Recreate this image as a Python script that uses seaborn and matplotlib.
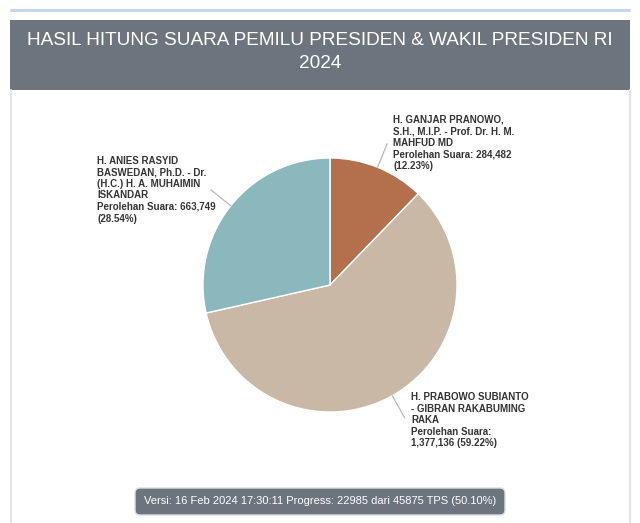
import numpy as np
import matplotlib.pyplot as plt
from matplotlib.patches import Rectangle, FancyBboxPatch
import seaborn as sns

sns.set_theme(style="white")
plt.rcParams['font.family'] = ['Liberation Sans', 'DejaVu Sans']

W, H = 640, 523

title = ["HASIL HITUNG SUARA PEMILU PRESIDEN & WAKIL PRESIDEN RI", "2024"]
footer = "Versi: 16 Feb 2024 17:30:11 Progress: 22985 dari 45875 TPS (50.10%)"

# order goes clockwise from the top of the pie
names = [
    ["H. GANJAR PRANOWO,", "S.H., M.I.P. - Prof. Dr. H. M.", "MAHFUD MD"],
    ["H. PRABOWO SUBIANTO", "- GIBRAN RAKABUMING", "RAKA"],
    ["H. ANIES RASYID", "BASWEDAN, Ph.D. - Dr.", "(H.C.) H. A. MUHAIMIN", "ISKANDAR"],
]
votes = [284482, 1377136, 663749]
colors = sns.color_palette(["#b4704c", "#c9b8a5", "#8bb8bd"])
number_on_next_line = [False, True, False]

# first-line position of each label, pixels from top-left
label_xy = [(393, 120), (411, 397), (97, 160.5)]
line_gap = 11.6


def Y(y):
    return H - y


fig = plt.figure(figsize=(W / 100, H / 100), dpi=100)
fig.patch.set_facecolor("white")
ax = fig.add_axes([0, 0, 1, 1])

# card above (only its bottom edge shows)
ax.plot([11, 629], [Y(10), Y(10)], color="#c8d5ee", lw=2.2, solid_capstyle="round")

# header bar
ax.add_patch(Rectangle((10, Y(90)), 620, 70, facecolor="#6c757d", edgecolor="none"))
ax.text(320, Y(40.5), title[0], fontsize=13.7, color="white", ha="center", va="center")
ax.text(320, Y(64), title[1], fontsize=13.7, color="white", ha="center", va="center")

# panel side borders
ax.plot([10.5, 10.5], [Y(90), 0], color="#e4e4e4", lw=1.5)
ax.plot([629.5, 629.5], [Y(90), 0], color="#e4e4e4", lw=1.5)

cx, cy, r = 330, Y(285), 127
wedges, _ = ax.pie(votes, colors=colors, startangle=90, counterclock=False,
                   center=(cx, cy), radius=r, frame=True,
                   wedgeprops=dict(edgecolor="white", linewidth=1))

total = sum(votes)
for i, w in enumerate(wedges):
    mid = np.deg2rad((w.theta1 + w.theta2) / 2)
    ax.plot([cx + r * np.cos(mid), cx + 1.2 * r * np.cos(mid)],
            [cy + r * np.sin(mid), cy + 1.2 * r * np.sin(mid)],
            color="#b8b8b8", lw=0.9)

    pct = votes[i] / total * 100
    if number_on_next_line[i]:
        extra = ["Perolehan Suara:", f"{votes[i]:,} ({pct:.2f}%)"]
    else:
        extra = [f"Perolehan Suara: {votes[i]:,}", f"({pct:.2f}%)"]
    x0, y0 = label_xy[i]
    for j, line in enumerate(names[i] + extra):
        ax.text(x0, Y(y0 + j * line_gap), line, fontsize=7, fontweight="bold",
                color="#333333", ha="left", va="center")

# footer badge
ax.add_patch(FancyBboxPatch((135, Y(515)), 370, 27,
                            boxstyle="round,pad=0,rounding_size=5",
                            facecolor="#6c757d", edgecolor="#dcdfe3", lw=1))
ax.text(320, Y(501.5), footer, fontsize=8, color="white", ha="center", va="center")

ax.set_xlim(0, W)
ax.set_ylim(0, H)
ax.axis("off")

fig.savefig("out.png", dpi=100)
